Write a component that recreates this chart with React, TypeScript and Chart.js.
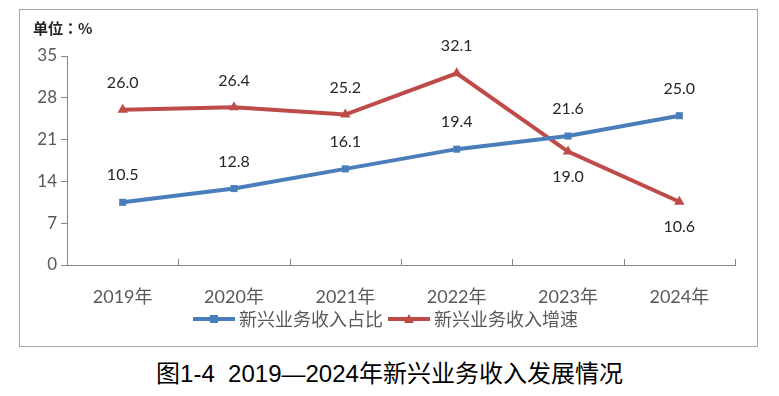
import React, { useEffect, useRef } from "react";
import { Chart, registerables } from "chart.js";

Chart.register(...registerables);

const categories = ["2019年", "2020年", "2021年", "2022年", "2023年", "2024年"];
const shareValues = [10.5, 12.8, 16.1, 19.4, 21.6, 25.0];
const growthValues = [26.0, 26.4, 25.2, 32.1, 19.0, 10.6];
const growthLabelBelow = [false, false, false, false, true, true];
const yTicks = [0, 7, 14, 21, 28, 35];
const seriesNames = ["新兴业务收入占比", "新兴业务收入增速"];
const unitLabel = "单位：%";
const caption = "图1-4  2019—2024年新兴业务收入发展情况";

const BLUE = "#4A7EBB";
const RED = "#BE4B48";
const AXIS = "#868686";
const TXT = "#595959";
const FONT = "Lato, 'Noto Sans CJK SC', sans-serif";

const decorPlugin = {
  id: "decor",
  afterDraw(chart: any) {
    const ctx = chart.ctx;
    const area = chart.chartArea;
    ctx.save();
    // unit label
    ctx.fillStyle = "#262626";
    ctx.font = "bold 15px 'Noto Sans CJK JP', 'Noto Sans CJK SC', sans-serif";
    ctx.textAlign = "left";
    ctx.textBaseline = "middle";
    ctx.fillText(unitLabel, 13, 18);

    // x ticks between categories (pointing up)
    ctx.strokeStyle = AXIS;
    ctx.lineWidth = 1;
    const n = categories.length;
    const step = (area.right - area.left) / n;
    for (let i = 1; i <= n; i++) {
      const x = Math.round(area.left + step * i) + 0.5;
      ctx.beginPath();
      ctx.moveTo(x, area.bottom);
      ctx.lineTo(x, area.bottom - 6);
      ctx.stroke();
    }

    // data labels
    ctx.font = "16px " + FONT;
    ctx.fillStyle = "#262626";
    ctx.textAlign = "center";
    ctx.textBaseline = "middle";
    const m0 = chart.getDatasetMeta(0);
    m0.data.forEach((pt: any, i: number) => {
      ctx.fillText(shareValues[i].toFixed(1), pt.x, pt.y - 27);
    });
    const m1 = chart.getDatasetMeta(1);
    m1.data.forEach((pt: any, i: number) => {
      const dy = growthLabelBelow[i] ? 25 : -27;
      ctx.fillText(growthValues[i].toFixed(1), pt.x, pt.y + dy);
    });

    // legend
    const ly = 309;
    const items = [
      { name: seriesNames[0], color: BLUE, marker: "square", x: 173 },
      { name: seriesNames[1], color: RED, marker: "triangle", x: 368 },
    ];
    ctx.font = "18px " + FONT;
    ctx.textAlign = "left";
    items.forEach((it) => {
      ctx.strokeStyle = it.color;
      ctx.lineWidth = 4;
      ctx.beginPath();
      ctx.moveTo(it.x, ly);
      ctx.lineTo(it.x + 42, ly);
      ctx.stroke();
      ctx.fillStyle = it.color;
      const cx = it.x + 21;
      if (it.marker === "square") {
        ctx.fillRect(cx - 4, ly - 4, 8, 8);
      } else {
        ctx.beginPath();
        ctx.moveTo(cx, ly - 5);
        ctx.lineTo(cx + 5, ly + 4);
        ctx.lineTo(cx - 5, ly + 4);
        ctx.closePath();
        ctx.fill();
      }
      ctx.fillStyle = TXT;
      ctx.fillText(it.name, it.x + 46, ly + 1);
    });
    ctx.restore();
  },
};

export default function App() {
  const ref = useRef<HTMLCanvasElement | null>(null);
  useEffect(() => {
    if (!ref.current) return;
    const chart = new Chart(ref.current, {
      type: "line",
      data: {
        labels: categories,
        datasets: [
          {
            label: seriesNames[0],
            data: shareValues,
            borderColor: BLUE,
            backgroundColor: BLUE,
            borderWidth: 4,
            pointStyle: "rect",
            pointRadius: 5,
            pointBorderWidth: 0,
            tension: 0,
          },
          {
            label: seriesNames[1],
            data: growthValues,
            borderColor: RED,
            backgroundColor: RED,
            borderWidth: 4,
            pointStyle: "triangle",
            pointRadius: 6,
            pointBorderWidth: 0,
            tension: 0,
          },
        ],
      },
      options: {
        animation: false,
        responsive: false,
        layout: { padding: { top: 46, right: 22, left: 0, bottom: 0 } },
        plugins: {
          legend: { display: false },
          tooltip: { enabled: false },
        },
        scales: {
          x: {
            offset: true,
            grid: { display: false },
            border: { display: true, color: AXIS, width: 1 },
            ticks: { color: TXT, font: { size: 18, family: FONT }, padding: 13, maxRotation: 0 },
            afterFit: (s: any) => {
              s.height = 81;
            },
          },
          y: {
            min: 0,
            max: 35,
            afterBuildTicks: (s: any) => {
              s.ticks = yTicks.map((v) => ({ value: v }));
            },
            grid: { display: true, drawOnChartArea: false, drawTicks: true, tickLength: 6, color: AXIS },
            border: { display: true, color: AXIS, width: 1 },
            ticks: { color: TXT, font: { size: 17, family: FONT }, padding: 4 },
            afterFit: (s: any) => {
              s.width = 47;
            },
          },
        },
      },
      plugins: [decorPlugin],
    });
    return () => chart.destroy();
  }, []);

  return (
    <div style={{ position: "fixed", left: 0, top: 0, width: 779, height: 396, background: "#fff" }}>
      <div
        style={{
          position: "absolute",
          left: 19,
          top: 9,
          width: 737,
          height: 336,
          border: "1px solid #a6a6a6",
        }}
      >
        <canvas ref={ref} width={737} height={336} style={{ display: "block" }} />
      </div>
      <div
        style={{
          position: "absolute",
          left: 0,
          top: 358,
          width: 779,
          textAlign: "center",
          fontFamily: "'Liberation Sans', 'Noto Sans CJK SC', sans-serif",
          fontSize: 24,
          fontWeight: 400,
          lineHeight: "32px",
          color: "#000",
          whiteSpace: "pre",
        }}
      >
        {caption}
      </div>
    </div>
  );
}
